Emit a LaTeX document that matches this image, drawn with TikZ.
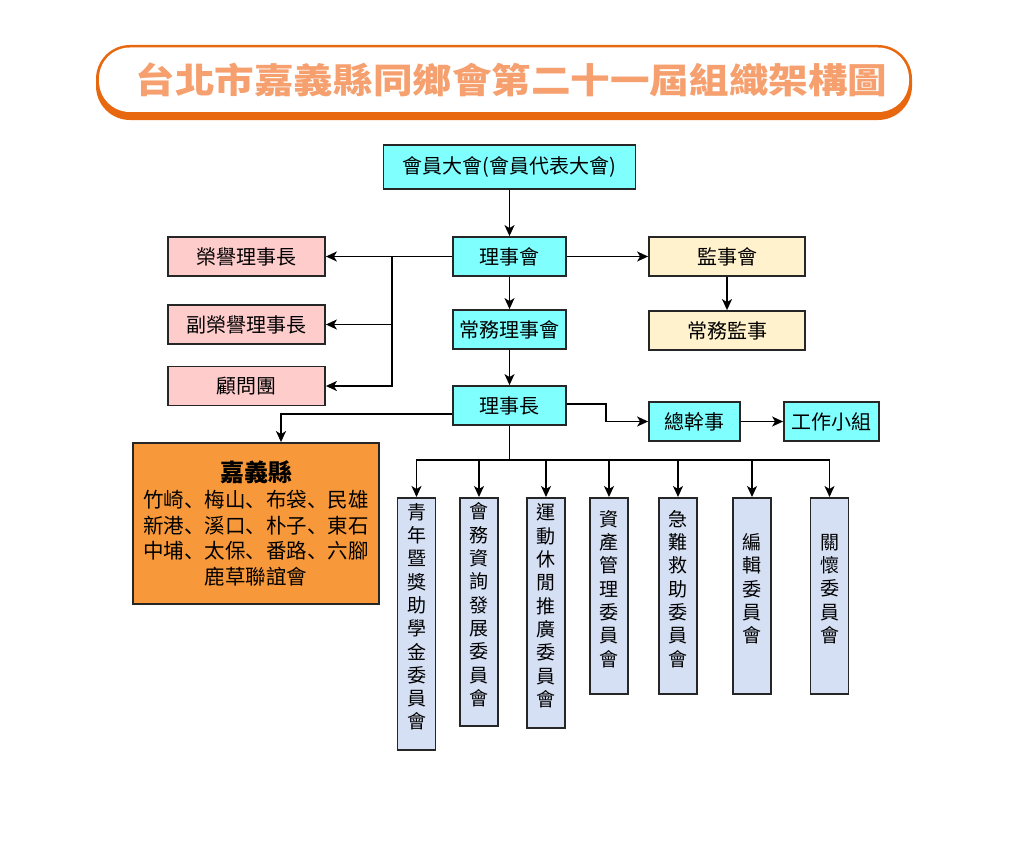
\documentclass[tikz,border=0pt]{standalone}
\usepackage{fontspec}
\newfontfamily\cjk{Noto Sans CJK TC}
\newfontfamily\cjkjp{Noto Sans CJK JP}
\newfontfamily\titlefont[FakeStretch=1.13]{Noto Sans CJK TC}
\usetikzlibrary{arrows.meta}
\newcommand{\dun}{{\cjkjp 、}}
\newcommand{\comtext}[2]{\parbox[c][#1][c]{1.2em}{\centering #2\par\vspace{14pt}}}

\begin{document}
\begin{tikzpicture}[x=1pt,y=1pt,yscale=-1,xscale=1,
  base/.style={draw={rgb, 255:red, 38; green, 38; blue, 38 }, line width=1.8pt, inner sep=0pt, font=\cjk\fontsize{20}{24}\selectfont},
  box/.style={base, align=center},
  cyanbox/.style={box, fill={rgb, 255:red, 128; green, 255; blue, 255 }, minimum width=113, minimum height=39},
  pinkbox/.style={box, fill={rgb, 255:red, 255; green, 204; blue, 204 }, minimum width=157, minimum height=39},
  yellowbox/.style={box, fill={rgb, 255:red, 255; green, 242; blue, 204 }, minimum width=156, minimum height=39},
  combox/.style={base, fill={rgb, 255:red, 214; green, 224; blue, 244 }, anchor=north, minimum width=38, font=\cjk\fontsize{19}{23.3}\selectfont},
  wire/.style={line width=1.6pt},
  link/.style={wire, -{Stealth[length=11pt,width=10pt,inset=3pt]}}]
%set diagram to the size of the reference
\fill [white] (0,0) rectangle (1024,848);
\useasboundingbox (0,0) rectangle (1024,848);

%Shape: Rounded Rect (title frame)
\fill [color={rgb, 255:red, 232; green, 104; blue, 16 }, rounded corners=34pt] (96,45) rectangle (912,120);
\fill [white, rounded corners=31pt] (99,47.5) rectangle (909,112);
\node [inner sep=0pt, font=\titlefont\bfseries\fontsize{35}{35}\selectfont, text={rgb, 255:red, 245; green, 160; blue, 110 }] (title) at (511.5,79.5) {台北市嘉義縣同鄉會第二十一屆組織架構圖};

%Shape: Rectangle (main line)
\node [cyanbox, minimum width=252, minimum height=44] (gm) at (509.5,167) {會員大會(會員代表大會)};
\node [cyanbox] (board) at (509.5,256.5) {理事會};
\node [cyanbox] (stand) at (509.5,329.5) {常務理事會};
\node [cyanbox] (chair) at (509.5,405.5) {理事長};

%Shape: Rectangle (honorary)
\node [pinkbox] (hon) at (246.5,256.5) {榮譽理事長};
\node [pinkbox] (vhon) at (246.5,324.5) {副榮譽理事長};
\node [pinkbox] (adv) at (246.5,386) {顧問團};

%Shape: Rectangle (supervisors)
\node [yellowbox] (superv) at (727,256.5) {監事會};
\node [yellowbox] (ssup) at (727,330.5) {常務監事};

%Shape: Rectangle (staff)
\node [cyanbox, minimum width=91] (sec) at (694.5,421.5) {總幹事};
\node [cyanbox, minimum width=95] (work) at (831.5,421.5) {工作小組};

%Shape: Rectangle (county)
\node [box, fill={rgb, 255:red, 247; green, 152; blue, 58 }, minimum width=246, minimum height=161, font=\cjk\fontsize{20.5}{25.7}\selectfont] (chiayi) at (256,523.5) {{\bfseries\fontsize{24}{26}\selectfont 嘉義縣}\\竹崎\dun 梅山\dun 布袋\dun 民雄\\新港\dun 溪口\dun 朴子\dun 東石\\中埔\dun 太保\dun 番路\dun 六腳\\鹿草聯誼會};

%Shape: Rectangle (committees)
\node [combox] (c1) at (416.5,497) {\comtext{252pt}{青\\年\\暨\\獎\\助\\學\\金\\委\\員\\會}};
\node [combox] (c2) at (479,497) {\comtext{228pt}{會\\務\\資\\詢\\發\\展\\委\\員\\會}};
\node [combox] (c3) at (546,497) {\comtext{230pt}{運\\動\\休\\閒\\推\\廣\\委\\員\\會}};
\node [combox] (c4) at (609,497) {\comtext{196pt}{資\\產\\管\\理\\委\\員\\會}};
\node [combox] (c5) at (678,497) {\comtext{196pt}{急\\難\\救\\助\\委\\員\\會}};
\node [combox] (c6) at (752,497) {\comtext{196pt}{編\\輯\\委\\員\\會}};
\node [combox] (c7) at (829.5,497) {\comtext{196pt}{關\\懷\\委\\員\\會}};

%Straight Lines
\draw [link] (gm) -- (board);
\draw [link] (board) -- (stand);
\draw [link] (stand) -- (chair);
\draw [link] (board) -- (hon);
\coordinate (bj) at (392,256.5);
\draw [link] (bj) |- (vhon);
\draw [link] (bj) |- (adv);
\draw [link] (board) -- (superv);
\draw [link] (superv) -- (ssup);
\draw [link] ([yshift=-1.5pt]chair.east) -- ++(39,0) |- (sec);
\draw [link] (sec) -- (work);
\draw [link] ([yshift=8.5pt]chair.west) -| ([xshift=25pt]chiayi.north);

%Straight Lines (committee bus)
\coordinate (bus) at (509.5,460);
\draw [wire] (chair) -- (bus);
\draw [link] (bus) -| (c1);
\draw [link] (bus) -| (c2);
\draw [link] (bus) -| (c3);
\draw [link] (bus) -| (c4);
\draw [link] (bus) -| (c5);
\draw [link] (bus) -| (c6);
\draw [link] (bus) -| (c7);

\end{tikzpicture}
\end{document}
